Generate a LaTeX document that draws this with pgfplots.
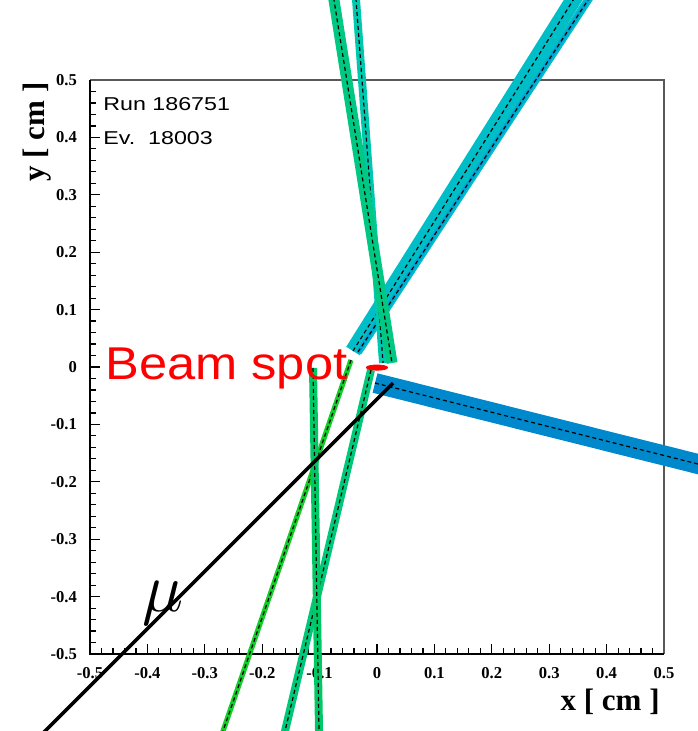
\documentclass[border=0pt]{standalone}
\usepackage{pgfplots}
\pgfplotsset{compat=1.18}
\usepackage{fontspec}
\setmainfont{Liberation Serif}
\newfontfamily\arialbeam[FakeStretch=1.1]{Liberation Sans}
\newfontfamily\arialwide[FakeStretch=1.25]{Liberation Sans}
\definecolor{cA}{RGB}{0,200,130}
\definecolor{cB}{RGB}{0,200,175}
\definecolor{cC}{RGB}{0,190,200}
\definecolor{cCb}{RGB}{0,165,210}
\definecolor{cD}{RGB}{0,136,204}
\definecolor{cE}{RGB}{0,200,120}
\definecolor{cF}{RGB}{20,205,40}
\definecolor{cG}{RGB}{0,200,100}
\tikzset{dashc/.style={black, line width=0.6pt, dash pattern=on 2pt off 1.5pt, mark=none}}
\begin{document}
\begin{tikzpicture}
\begin{axis}[
  width=287pt, height=287pt, scale only axis,
  xmin=-0.5, xmax=0.5, ymin=-0.5, ymax=0.5,
  clip=false,
  axis line style={draw=none},
  xtick={-0.5,-0.4,-0.3,-0.2,-0.1,0,0.1,0.2,0.3,0.4,0.5},
  ytick={-0.5,-0.4,-0.3,-0.2,-0.1,0,0.1,0.2,0.3,0.4,0.5},
  xticklabels={-0.5,-0.4,-0.3,-0.2,-0.1,0,0.1,0.2,0.3,0.4,0.5},
  yticklabels={-0.5,-0.4,-0.3,-0.2,-0.1,0,0.1,0.2,0.3,0.4,0.5},
  minor x tick num=4, minor y tick num=4,
  tick align=inside, tick pos=left,
  major tick length=5pt, minor tick length=3pt,
  every tick/.style={black, line width=0.6pt},
  ticklabel style={font=\fontsize{8.3}{9}\selectfont\bfseries},
  xticklabel style={yshift=-3.3pt},
  yticklabel style={xshift=-3pt},
]
% frame
\draw[gray!70!black, line width=0.6pt] (rel axis cs:0,1) -- (rel axis cs:1,1) -- (rel axis cs:1,0);
\draw[black, line width=1pt] (rel axis cs:0,1) -- (rel axis cs:0,0) -- (rel axis cs:1,0);

% track D (blue, to the right)
\addplot[cD, line width=10pt, line cap=butt, mark=none] coordinates {(-0.0035,-0.0279) (0.5976,-0.1786)};
\addplot[dashc] coordinates {(-0.0035,-0.0279) (0.5976,-0.1786)};
% tracks C (cyan, up-right)
\addplot[cC, line width=8pt, line cap=butt, mark=none] coordinates {(-0.0418,0.0279) (0.3746,0.6916)};
\addplot[dashc] coordinates {(-0.0418,0.0279) (0.3746,0.6916)};
\addplot[cC, line width=4pt, line cap=butt, mark=none] coordinates {(-0.0331,0.0261) (0.4017,0.6916)};
\addplot[cCb, line width=2pt, line cap=butt, mark=none] coordinates {(-0.0331,0.0261) (0.4017,0.6916)};
\addplot[dashc] coordinates {(-0.0331,0.0261) (0.4017,0.6916)};
% track B (teal, steep)
\addplot[cB, line width=4pt, line cap=butt, mark=none] coordinates {(-0.0404,0.6916) (0.0105,0.0070)};
\addplot[dashc] coordinates {(-0.0404,0.6916) (0.0105,0.0070)};
% track A (green, steep)
\addplot[cA, line width=5.5pt, line cap=butt, mark=none] coordinates {(-0.0833,0.6916) (0.0261,0.0070)};
\addplot[dashc] coordinates {(-0.0833,0.6916) (0.0261,0.0070)};
% track E
\addplot[cE, line width=4pt, line cap=butt, mark=none] coordinates {(-0.0105,-0.0052) (-0.1723,-0.6847)};
\addplot[dashc] coordinates {(-0.0105,-0.0052) (-0.1723,-0.6847)};
% track F
\addplot[cF, line width=2.6pt, line cap=butt, mark=none] coordinates {(-0.0453,0.0122) (-0.2857,-0.6847)};
\addplot[dashc] coordinates {(-0.0453,0.0122) (-0.2857,-0.6847)};
% track G
\addplot[cG, line width=4pt, line cap=butt, mark=none] coordinates {(-0.1115,-0.0017) (-0.1002,-0.6847)};
\addplot[dashc] coordinates {(-0.1115,-0.0017) (-0.1002,-0.6847)};
% muon
\addplot[black, line width=1.8pt, line cap=butt, mark=none] coordinates {(0.0279,-0.0279) (-0.6289,-0.6847)};
% beam spot
\addplot[red, only marks, mark=*, mark size=1.3pt, mark options={xscale=4.1, draw=red, fill=red}] coordinates {(0,-0.001)};

% texts
\node[anchor=base west, inner sep=0pt, font=\arialwide\fontsize{9.3}{10}\selectfont] at (axis cs:-0.4774,0.4477) {Run 186751};
\node[anchor=base west, inner sep=0pt, font=\arialwide\fontsize{9.3}{10}\selectfont] at (axis cs:-0.4774,0.3868) {Ev.\ \ 18003};
\node[anchor=base west, inner sep=0pt, text=red, font=\arialbeam\fontsize{23}{24}\selectfont] at (axis cs:-0.4739,-0.0226) {Beam spot};
\node[inner sep=0pt, scale=1.4, font=\fontsize{24}{24}\selectfont] at (axis cs:-0.3720,-0.4110) {$\mu$};
\node[anchor=base east, inner sep=0pt, font=\fontsize{15.5}{16}\selectfont\bfseries] at (axis cs:0.4930,-0.5976) {x [ cm ]};
\node[rotate=90, anchor=base east, inner sep=0pt, font=\fontsize{15.5}{16}\selectfont\bfseries] at (axis cs:-0.5801,0.4965) {y [ cm ]};

\coordinate (bbl) at (axis cs:-0.6568,-0.6341);
\coordinate (btr) at (axis cs:0.5592,0.6394);
\end{axis}
\pgfresetboundingbox
\useasboundingbox (bbl) rectangle (btr);
\end{tikzpicture}
\end{document}
